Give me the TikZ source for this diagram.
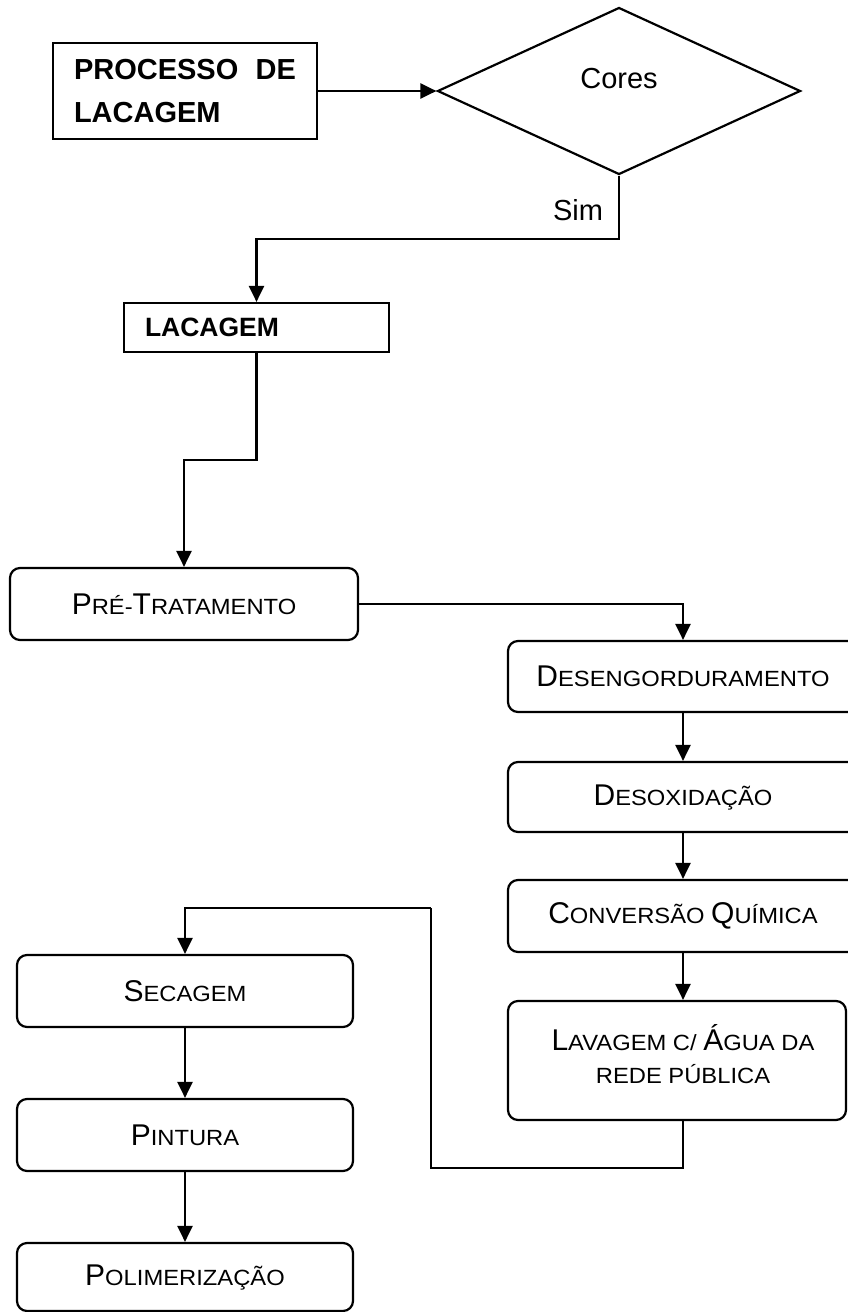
\documentclass[tikz,border=0pt]{standalone}
\usepackage{fontspec}
\setmainfont{Liberation Sans}
\newfontfamily\scsmall[FakeStretch=1.08]{Liberation Sans}
\usetikzlibrary{shapes.geometric,arrows.meta}
\newcommand\Bg[1]{{\normalfont\fontsize{30}{33}\selectfont #1}}
\begin{document}
\begin{tikzpicture}[x=1pt,y=-1pt, line width=2.2pt,
  arr/.style={-{Triangle[length=16pt,width=15pt]}},
  sqbox/.style={draw, rectangle, inner sep=0pt},
  rbox/.style={draw, rectangle, rounded corners=10pt, inner sep=0pt, align=center, font=\scsmall\fontsize{22}{33}\selectfont},
  lbl/.style={font=\fontsize{29}{34}\selectfont, inner sep=0pt}]
\useasboundingbox (0,0) rectangle (848,1312);
\clip (0,0) rectangle (848,1312);

\node[sqbox, minimum width=264pt, minimum height=96pt, text width=222pt, align=left, font=\bfseries\fontsize{29}{43}\selectfont] (proc) at (185,91) {PROCESSO\hfill DE\\LACAGEM};
\node[draw, diamond, minimum width=363pt, minimum height=167pt, inner sep=0pt, shape aspect=2.17] (dia) at (619,91) {};
\node[lbl] (cores) at (619,79) {Cores};
\node[lbl] (sim) at (578,210) {Sim};

\node[sqbox, minimum width=265pt, minimum height=49pt, text width=223pt, align=left, font=\bfseries\fontsize{26.5}{30}\selectfont] (lac) at (256.5,327.5) {LACAGEM};

\node[rbox, minimum width=348pt, minimum height=72pt] (pre) at (184,604) {\Bg{P}RÉ-\Bg{T}RATAMENTO};

\node[rbox, minimum width=350pt, minimum height=71pt] (des) at (683,676.5) {\Bg{D}ESENGORDURAMENTO};
\node[rbox, minimum width=350pt, minimum height=70pt] (dox) at (683,797) {\Bg{D}ESOXIDAÇÃO};
\node[rbox, minimum width=350pt, minimum height=72pt] (conv) at (683,916) {\Bg{C}ONVERSÃO \Bg{Q}UÍMICA};
\node[rbox, minimum width=338pt, minimum height=119pt] (lav) at (677,1060.5) {};
\node[align=center, inner sep=0pt, font=\scsmall\fontsize{22}{33}\selectfont] (lavt) at (683,1054) {\Bg{L}AVAGEM C/ \Bg{Á}GUA DA\\REDE PÚBLICA};

\node[rbox, minimum width=336pt, minimum height=72pt] (sec) at (185,991) {\Bg{S}ECAGEM};
\node[rbox, minimum width=336pt, minimum height=72pt] (pin) at (185,1135) {\Bg{P}INTURA};
\node[rbox, minimum width=336pt, minimum height=68pt] (pol) at (185,1277) {\Bg{P}OLIMERIZAÇÃO};

\coordinate (j1) at (619,239);
\coordinate (j2) at (256.5,460);
\coordinate (j3) at (683,1168);
\coordinate (j4) at (431,1168);
\coordinate (j5) at (431,908);

\draw[arr] (proc.east) -- (dia.west);
\draw[arr] (dia.south) -- (j1) -| (lac.north);
\draw[arr] (lac.south) -- (j2) -| (pre.north);
\draw[arr] (pre.east) -| (des.north);
\draw[arr] (des) -- (dox);
\draw[arr] (dox) -- (conv);
\draw[arr] (conv.south) -- (conv.south |- lav.north);
\draw (lav.south -| j3) -- (j3) -- (j4) -- (j5);
\draw[arr] (j5) -| (sec.north);
\draw[arr] (sec) -- (pin);
\draw[arr] (pin) -- (pol);
\end{tikzpicture}
\end{document}
